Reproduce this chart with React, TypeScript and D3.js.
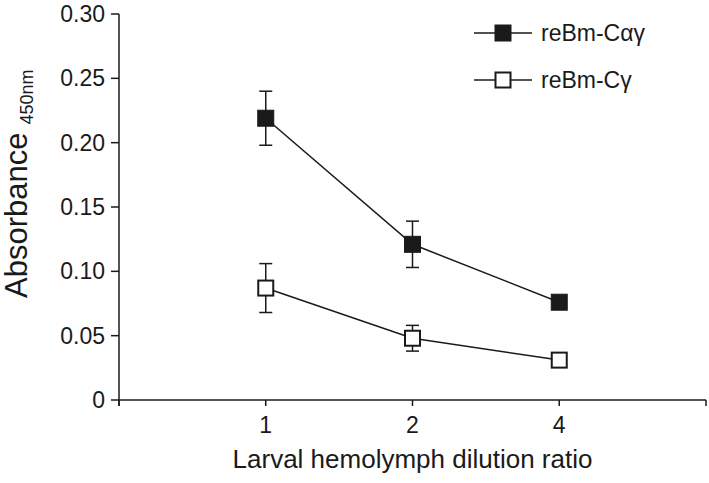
import React from "react";
import * as d3 from "d3";

const categories = ["1", "2", "4"];
const seriesNames = ["reBm-Cαγ", "reBm-Cγ"];
const filledValues = [0.219, 0.121, 0.076];
const filledErrors = [0.021, 0.018, 0];
const openValues = [0.087, 0.048, 0.031];
const openErrors = [0.019, 0.010, 0];
const yTicks = [0, 0.05, 0.1, 0.15, 0.2, 0.25, 0.3];

const W = 709;
const H = 483;
const INK = "#1a1a1a";
const FONT = "'Liberation Sans', Arial, Helvetica, sans-serif";

export default function App() {
  const x = d3.scaleLinear().domain([0, categories.length + 1]).range([119, 706]);
  const y = d3.scaleLinear().domain([0, 0.3]).range([400, 14]);
  const line = d3
    .line<number>()
    .x((_, i) => x(i + 1))
    .y((d) => y(d));

  const series = [
    { name: seriesNames[0], values: filledValues, errors: filledErrors, filled: true },
    { name: seriesNames[1], values: openValues, errors: openErrors, filled: false },
  ];

  const marker = (cx: number, cy: number, filled: boolean, key: string) =>
    filled ? (
      <rect key={key} x={cx - 8} y={cy - 8} width={16} height={16} fill={INK} stroke={INK} strokeWidth={1} />
    ) : (
      <rect key={key} x={cx - 7.5} y={cy - 7.5} width={15} height={15} fill="#fff" stroke={INK} strokeWidth={2} />
    );

  const xTickIdx = d3.range(0, categories.length + 2);
  const legendY = [33, 80];

  return (
    <svg width={W} height={H} style={{ position: "absolute", left: 0, top: 0, background: "#fff" }} fontFamily={FONT}>
      {/* Y axis */}
      <line x1={x(0)} x2={x(0)} y1={y(0.3)} y2={y(0) + 6} stroke={INK} strokeWidth={1.5} />
      {yTicks.map((t) => (
        <g key={t}>
          <line x1={x(0) - 8} x2={x(0)} y1={y(t)} y2={y(t)} stroke={INK} strokeWidth={1.5} />
          <text x={x(0) - 14} y={y(t)} dy="0.35em" textAnchor="end" fontSize={23} fill={INK}>
            {t === 0 ? "0" : t.toFixed(2)}
          </text>
        </g>
      ))}
      {/* X axis */}
      <line x1={x(0)} x2={x(categories.length + 1)} y1={y(0)} y2={y(0)} stroke={INK} strokeWidth={1.5} />
      {xTickIdx.map((i) => (
        <line key={i} x1={x(i)} x2={x(i)} y1={y(0)} y2={y(0) + 6} stroke={INK} strokeWidth={1.5} />
      ))}
      {categories.map((c, i) => (
        <text key={c} x={x(i + 1)} y={433} textAnchor="middle" fontSize={23} fill={INK}>
          {c}
        </text>
      ))}
      <text x={(x(0) + x(categories.length + 1)) / 2} y={468} textAnchor="middle" fontSize={26} fill={INK}>
        Larval hemolymph dilution ratio
      </text>
      <text transform="translate(27,298) rotate(-90)" fontSize={31} fill={INK}>
        Absorbance
        <tspan dx={8} dy={6} fontSize={18}>
          450nm
        </tspan>
      </text>

      {/* Series */}
      {series.map((s) => (
        <g key={s.name}>
          <path d={line(s.values) || ""} fill="none" stroke={INK} strokeWidth={1.5} />
          {s.values.map((v, i) =>
            s.errors[i] > 0 ? (
              <g key={i}>
                <line x1={x(i + 1)} x2={x(i + 1)} y1={y(v + s.errors[i])} y2={y(v - s.errors[i])} stroke={INK} strokeWidth={1.5} />
                <line x1={x(i + 1) - 6.5} x2={x(i + 1) + 6.5} y1={y(v + s.errors[i])} y2={y(v + s.errors[i])} stroke={INK} strokeWidth={1.5} />
                <line x1={x(i + 1) - 6.5} x2={x(i + 1) + 6.5} y1={y(v - s.errors[i])} y2={y(v - s.errors[i])} stroke={INK} strokeWidth={1.5} />
              </g>
            ) : null
          )}
          {s.values.map((v, i) => marker(x(i + 1), y(v), s.filled, `m${i}`))}
        </g>
      ))}

      {/* Legend */}
      {series.map((s, k) => (
        <g key={`lg${k}`}>
          <line x1={474} x2={532} y1={legendY[k]} y2={legendY[k]} stroke={INK} strokeWidth={1.5} />
          {marker(503, legendY[k], s.filled, `lm${k}`)}
          <text x={541} y={legendY[k]} dy="0.35em" fontSize={23} fill={INK}>
            {s.name}
          </text>
        </g>
      ))}
    </svg>
  );
}
